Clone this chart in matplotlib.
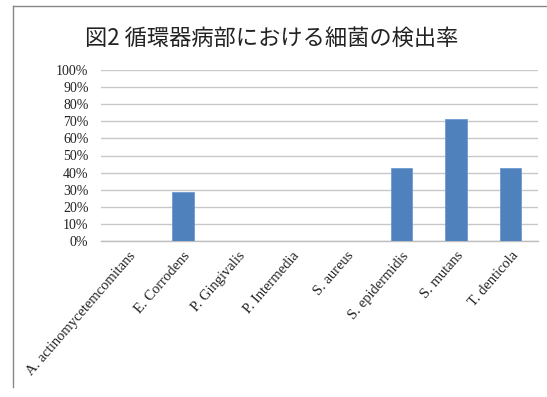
import matplotlib
matplotlib.use("Agg")
import matplotlib.pyplot as plt
import numpy as np
from matplotlib.lines import Line2D
from matplotlib.ticker import PercentFormatter

title = "図2 循環器病部における細菌の検出率"
bacteria = ["A. actinomycetemcomitans", "E. Corrodens", "P. Gingivalis",
            "P. Intermedia", "S. aureus", "S. epidermidis", "S. mutans",
            "T. denticola"]
rates = [0.0, 28.6, 0.0, 0.0, 0.0, 42.9, 71.4, 42.9]

W, H = 547, 397
fig = plt.figure(figsize=(W / 100, H / 100), dpi=100)
ax = fig.add_axes([101 / W, 1 - 241 / H, 437 / W, 171 / H])

x = np.arange(len(bacteria))
ax.bar(x, rates, width=0.39, color="#4F81BD", edgecolor="#6E9AD0",
       linewidth=0.6, zorder=3)

ax.set_xlim(-0.5, len(bacteria) - 0.5)
ax.set_ylim(0, 100)
ax.set_yticks(np.arange(0, 101, 10))
ax.yaxis.set_major_formatter(PercentFormatter(decimals=0))
ax.grid(axis="y", color="#C8C8C8", linewidth=1.0, zorder=0)
ax.set_axisbelow(True)

for s in ["top", "right", "left"]:
    ax.spines[s].set_visible(False)
ax.spines["bottom"].set_color("#BEBEBE")
ax.spines["bottom"].set_linewidth(1.0)

ax.tick_params(axis="both", length=0, colors="#222222")
ax.tick_params(axis="y", pad=9, labelsize=10)
ax.tick_params(axis="x", pad=6, labelsize=10.5)
ax.set_xticks(x)
ax.set_xticklabels(bacteria, rotation=49, ha="right", va="top",
                   rotation_mode="anchor", family="Liberation Serif")
for lab in ax.get_yticklabels():
    lab.set_family("Liberation Serif")

fig.text(272 / W, 1 - 38 / H, title, ha="center", va="center",
         fontsize=16, family=["Noto Sans CJK JP", "DejaVu Sans"],
         color="#222222")

# chart frame edges
fig.add_artist(Line2D([13 / W, 1], [1 - 6 / H, 1 - 6 / H],
                      color="#888888", linewidth=1.0))
fig.add_artist(Line2D([13 / W, 13 / W], [1 - 6 / H, 1 - 387 / H],
                      color="#888888", linewidth=1.0))

fig.savefig("out.png", dpi=100)
